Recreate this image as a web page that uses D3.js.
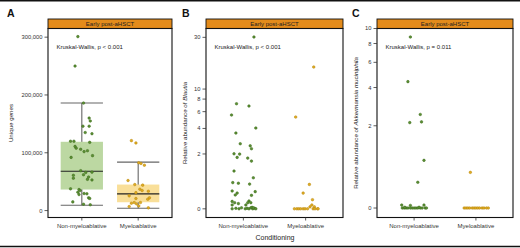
<!DOCTYPE html>
<html>
<head>
<meta charset="utf-8">
<script src="https://cdn.jsdelivr.net/npm/d3@7"></script>
<style>
  body { margin: 0; background: #fff; }
  svg { display: block; font-family: "Liberation Sans", Arial, sans-serif; }
</style>
</head>
<body>
<svg id="chart" width="520" height="248"></svg>
<script>
const groups = ['Non-myeloablative', 'Myeloablative'];
const stripLabel = 'Early post-aHSCT';

// Panel A - unique genes (jitter is the horizontal offset in category units)
const genesNonMyelo = [301000, 250000, 186000, 160000, 155000, 146000, 146000, 135000, 133000, 120000,
  120000, 118000, 111000, 108000, 106000, 102000, 103500, 92000, 95000, 69000,
  66000, 66500, 61000, 62000, 56000, 58000, 54000, 53000, 37600, 36400,
  34700, 31800, 27700, 29500, 29000, 22000, 21000, 15000, 11000, 10000];
const genesNonMyeloJitter = [-0.07, -0.12, 0.03, 0.13, 0.15, 0.02, 0.13, 0.06, 0.18, -0.20,
  -0.14, 0.14, -0.12, -0.10, -0.02, 0.04, 0.10, -0.19, 0.19, -0.02,
  0.07, 0.18, -0.15, 0.03, -0.15, 0.12, 0.10, 0.18, -0.20, -0.05,
  -0.03, -0.07, -0.05, 0.04, 0.09, 0.12, 0.14, -0.16, 0.03, 0.15];
const genesMyelo = [121000, 117000, 82700, 81500, 78500, 52000, 45000, 44000, 37000, 31000,
  34700, 33500, 20800, 25500, 22000, 13900, 11600, 12700, 7000, 8000, 4700, 19600, 13900];
const genesMyeloJitter = [-0.12, -0.04, 0.01, 0.05, 0.11, -0.18, -0.06, 0.08, 0.03, -0.04,
  0.07, 0.18, -0.04, -0.16, 0.20, -0.07, -0.03, -0.12, -0.16, 0.01, 0.18, 0.17, 0.04];
// box stats: lower whisker, q1, median, q3, upper whisker
const genesBoxNonMyelo = [9200, 36400, 68000, 119000, 186000];
const genesBoxMyelo = [4000, 14400, 29000, 45000, 83800];
const genesTicks = [0, 100000, 200000, 300000];

// Panel B - Blautia
const blautiaNonMyelo = [30.2, 7.2, 6.83, 5.54, 4.04, 3.56, 2.68, 2.53, 2.33, 2.01,
  1.99, 1.8, 1.76, 1.6, 1.13, 0.86, 0.69, 0.67, 0.64, 0.43,
  0.41, 0.37, 0.32, 0.31, 0.16, 0.13, 0.11, 0.17, 0.13, 0.13,
  0.08, 0.08, 0, 0.01, 0, 0.02, 0, 0.01, 0, 0.02, 0, 0.01, 0, 0.03, 0.02];
const blautiaNonMyeloJitter = [0.17, -0.11, 0.09, -0.19, 0.20, -0.12, -0.05, 0.11, 0.13, -0.15,
  -0.06, -0.10, 0.07, 0.13, -0.15, 0.16, -0.17, -0.08, 0.10, -0.18,
  0.19, -0.10, -0.13, 0.13, -0.18, -0.14, -0.08, 0.09, 0.07, 0.12,
  0.04, -0.18, -0.18, -0.12, -0.07, -0.03, 0.03, 0.06, 0.09, 0.12, 0.15, 0.18, 0.20, 0.14, 0.16];
const blautiaMyelo = [16.1, 5.28, 0.63, 0.37, 0.2, 0.08, 0.04, 0.04,
  0, 0, 0, 0, 0, 0, 0, 0, 0, 0, 0];
const blautiaMyeloJitter = [0.13, -0.16, 0.06, -0.04, 0.11, 0.10, 0.14, 0.07,
  -0.18, -0.14, -0.11, -0.08, -0.04, -0.01, 0.03, 0.12, 0.15, 0.19, 0.20];
const blautiaTicks = [0, 2, 4, 6, 8, 10, 30];

// Panel C - Akkermansia muciniphila
const akkNonMyelo = [8.82, 4.41, 2.49, 2.13, 2.16, 0.89, 0.41, 0.04, 0.035, 0.04,
  0, 0, 0, 0, 0, 0, 0, 0, 0, 0, 0, 0, 0, 0.01, 0.01];
const akkNonMyeloJitter = [-0.06, -0.10, 0.10, -0.07, 0.12, 0.16, 0.06, -0.20, -0.06, 0.16,
  -0.19, -0.16, -0.13, -0.10, -0.06, -0.03, 0, 0.03, 0.06, 0.10, 0.13, 0.18, 0.20, -0.15, 0.08];
const akkMyelo = [0.61, 0, 0, 0, 0, 0, 0, 0, 0, 0, 0, 0, 0, 0];
const akkMyeloJitter = [-0.09, -0.19, -0.16, -0.13, -0.10, -0.06, -0.03, 0, 0.03, 0.06, 0.10, 0.13, 0.17, 0.20];
const akkTicks = [0, 2, 4, 6, 8, 10];

const ptFill = ['#5b8f33', '#e0ac22'];
const ptStroke = ['#3c6a1c', '#b6860f'];
const boxFill = ['#bcd8a2', '#f9df99'];

const svg = d3.select('#chart');
const stripTop = 19, stripH = 9.5, panelBottom = 217.5;

// frame lines top and bottom
svg.append('line').attr('x1', 0).attr('x2', 520).attr('y1', 0.75).attr('y2', 0.75)
  .attr('stroke', '#111').attr('stroke-width', 1.5);
svg.append('line').attr('x1', 0).attr('x2', 520).attr('y1', 246.5).attr('y2', 246.5)
  .attr('stroke', '#111').attr('stroke-width', 1.5);

function drawPanel(p) {
  const g = svg.append('g');
  const y0 = stripTop + stripH;
  const x = d3.scaleLinear().domain([0.4, 2.6]).range([p.left, p.right]);
  const unit = x(2) - x(1);
  const y = p.y.range([panelBottom, y0]);

  // panel letter
  g.append('text').attr('x', p.letterX).attr('y', 16.5)
    .attr('font-size', 10.5).attr('font-weight', 'bold').attr('fill', '#111').text(p.letter);

  // strip
  g.append('rect').attr('x', p.left).attr('y', stripTop).attr('width', p.right - p.left).attr('height', stripH)
    .attr('fill', '#e38b1b').attr('stroke', '#111').attr('stroke-width', 0.9);
  g.append('text').attr('x', (p.left + p.right) / 2).attr('y', stripTop + stripH / 2 + 2.1)
    .attr('text-anchor', 'middle').attr('font-size', 6).attr('fill', '#222').text(stripLabel);

  // boxes
  if (p.boxes) {
    p.boxes.forEach((b, i) => {
      const cx = x(i + 1), hw = unit * 0.375;
      const bg = g.append('g').attr('stroke', '#666').attr('stroke-width', 1.1);
      bg.append('line').attr('x1', cx).attr('x2', cx).attr('y1', y(b[0])).attr('y2', y(b[4]));
      bg.append('line').attr('x1', cx - hw).attr('x2', cx + hw).attr('y1', y(b[0])).attr('y2', y(b[0]));
      bg.append('line').attr('x1', cx - hw).attr('x2', cx + hw).attr('y1', y(b[4])).attr('y2', y(b[4]));
      g.append('rect').attr('x', cx - hw).attr('width', hw * 2)
        .attr('y', y(b[3])).attr('height', y(b[1]) - y(b[3])).attr('fill', boxFill[i]);
      g.append('line').attr('x1', cx - hw).attr('x2', cx + hw).attr('y1', y(b[2])).attr('y2', y(b[2]))
        .attr('stroke', '#222').attr('stroke-width', 1.2);
    });
  }

  // points
  p.series.forEach((s, i) => {
    g.append('g').selectAll('circle').data(s.values).enter().append('circle')
      .attr('cx', (d, k) => x(i + 1) + s.jitter[k] * unit)
      .attr('cy', d => y(d))
      .attr('r', 1.3)
      .attr('fill', ptFill[i]).attr('stroke', ptStroke[i]).attr('stroke-width', 0.5);
  });

  // panel border
  g.append('rect').attr('x', p.left).attr('y', y0).attr('width', p.right - p.left).attr('height', panelBottom - y0)
    .attr('fill', 'none').attr('stroke', '#111').attr('stroke-width', 1.1);

  // y axis
  const yTicks = g.append('g').selectAll('g').data(p.ticks).enter().append('g')
    .attr('transform', d => `translate(0,${y(d)})`);
  yTicks.append('line').attr('x1', p.left - 3.5).attr('x2', p.left).attr('stroke', '#333').attr('stroke-width', 0.8);
  yTicks.append('text').attr('x', p.left - 5.5).attr('dy', '0.34em').attr('text-anchor', 'end')
    .attr('font-size', 5.8).attr('fill', '#333').text(p.format);

  // x axis
  groups.forEach((name, i) => {
    g.append('line').attr('x1', x(i + 1)).attr('x2', x(i + 1)).attr('y1', panelBottom).attr('y2', panelBottom + 3)
      .attr('stroke', '#333').attr('stroke-width', 0.8);
    g.append('text').attr('x', x(i + 1)).attr('y', panelBottom + 10.5).attr('text-anchor', 'middle')
      .attr('font-size', 6).attr('fill', '#333').text(name);
  });

  // y title
  const t = g.append('text')
    .attr('transform', `translate(${p.titleX},${(y0 + panelBottom) / 2}) rotate(-90)`)
    .attr('text-anchor', 'middle').attr('font-size', 6.2).attr('fill', '#222');
  p.title.forEach(part => t.append('tspan').attr('font-style', part.italic ? 'italic' : 'normal').text(part.text));

  // stat label
  g.append('text').attr('x', p.left + 8.5).attr('y', 49.3).attr('font-size', 6).attr('fill', '#222').text(p.stat);
}

drawPanel({
  letter: 'A', letterX: 7, left: 48, right: 172, titleX: 13,
  y: d3.scaleLinear().domain([-12000, 315000]),
  ticks: genesTicks, format: d3.format(','),
  series: [{ values: genesNonMyelo, jitter: genesNonMyeloJitter }, { values: genesMyelo, jitter: genesMyeloJitter }],
  boxes: [genesBoxNonMyelo, genesBoxMyelo],
  title: [{ text: 'Unique genes' }],
  stat: 'Kruskal-Wallis, p < 0.001'
});

drawPanel({
  letter: 'B', letterX: 182, left: 206, right: 343, titleX: 187,
  y: d3.scaleSymlog().constant(1).domain([-0.19, 36]),
  ticks: blautiaTicks, format: d => d,
  series: [{ values: blautiaNonMyelo, jitter: blautiaNonMyeloJitter }, { values: blautiaMyelo, jitter: blautiaMyeloJitter }],
  title: [{ text: 'Relative abundance of ' }, { text: 'Blautia', italic: true }],
  stat: 'Kruskal-Wallis, p < 0.001'
});

drawPanel({
  letter: 'C', letterX: 352, left: 377, right: 513, titleX: 358,
  y: d3.scaleSymlog().constant(1).domain([-0.135, 10]),
  ticks: akkTicks, format: d => d,
  series: [{ values: akkNonMyelo, jitter: akkNonMyeloJitter }, { values: akkMyelo, jitter: akkMyeloJitter }],
  title: [{ text: 'Relative abundance of ' }, { text: 'Akkermansia muciniphila', italic: true }],
  stat: 'Kruskal-Wallis, p = 0.011'
});

svg.append('text').attr('x', 275).attr('y', 239.5).attr('text-anchor', 'middle')
  .attr('font-size', 7).attr('fill', '#222').text('Conditioning');
</script>
</body>
</html>
